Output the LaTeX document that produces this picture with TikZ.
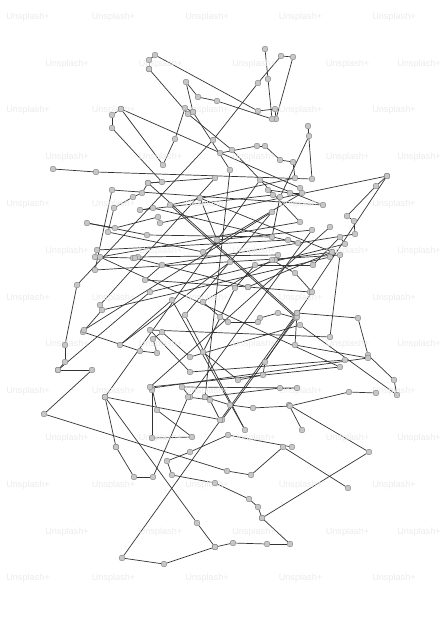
\documentclass[tikz,border=0pt]{standalone}
\usepackage{fontspec}
\setsansfont{Liberation Sans}
\pgfdeclarelayer{bg}
\pgfsetlayers{bg,main}

\tikzstyle{pt}=[circle, inner sep=0pt, minimum size=2.9mm, draw=black!55, fill=black!22, line width=0.5pt]
\tikzstyle{link}=[draw=black!80, line width=1pt]
\tikzstyle{wmark}=[text=black!8, font=\sffamily\fontsize{13}{13}\selectfont]

% one chain of dots, each joined to the one before it
\newcommand{\linkchain}[2]{%
  \foreach \p [count=\n] in {#2} {
    \node[pt] (#1\n) at \p {};
    \ifnum\n>1
      \pgfmathtruncatemacro\m{\n-1}
      \begin{pgfonlayer}{bg}
        \draw[link] (#1\m) -- (#1\n);
      \end{pgfonlayer}
    \fi
  }%
}

\begin{document}
\begin{tikzpicture}[x=0.5mm, y=-0.5mm]
  \useasboundingbox (0,0) rectangle (447,624);

  % watermark grid
  \foreach \r in {0,...,12} {
    \pgfmathsetmacro\yy{17+46.8*\r}
    \foreach \k in {0,...,4} {
      \pgfmathsetmacro\xx{mod(\r,2)==0 ? (\k==0 ? 28 : 20+93.5*\k) : (\k==4 ? 419 : 67+93.5*\k)}
      \node[wmark] (wm\r-\k) at (\xx,\yy) {Unsplash+};
    }
  }

  % top and left loops
  \linkchain{a}{(53,169),(96,172),(312,179),(308,126),(309,136),(280,197),(272,237),(147,235),(87,223),(115,228),(158,217),(160,223),(387,176),(310,292),(248,287),(145,280),(162,265),(355,234),(354,221),(347,216),(376,186),(387,176)}
  \linkchain{b}{(149,69),(149,60),(155,55),(258,111),(275,109),(276,119),(293,57),(281,56),(258,83),(213,140),(77,285),(65,345),(65,362),(58,370),(92,370),(44,414),(227,471),(251,475),(283,447),(348,488)}
  \linkchain{c}{(265,49),(268,79),(272,119),(217,101),(198,97),(186,82),(193,112),(185,108),(175,139),(163,165),(121,109),(112,115),(112,128),(162,182),(148,183),(142,193),(133,197),(114,208),(108,232),(203,252),(302,193),(290,193),(268,190),(273,195),(140,210),(153,208),(298,243),(288,240),(97,250),(95,257),(133,258),(138,257),(278,255),(275,260),(332,252),(330,257),(102,310),(83,332),(140,351),(157,353),(153,339),(162,332),(190,357),(300,325),(397,395),(394,380),(368,355),(358,318),(297,313),(295,345),(368,358),(152,388),(157,410),(192,437),(152,438),(152,390)}

  % centre tangle
  \linkchain{f}{(220,153),(257,146),(265,146),(280,160),(293,162),(295,178),(170,205),(296,318),(278,313),(260,318),(258,322),(228,322),(220,317),(203,302),(272,260),(295,273),(312,292),(265,362),(263,375),(238,380),(203,352),(235,288),(255,265),(313,265),(340,237),(345,244),(150,292),(58,370)}
  \linkchain{g}{(193,112),(230,170),(205,397),(280,388),(297,388),(182,387),(190,397),(312,230),(217,240),(200,198),(332,252),(248,287),(135,258)}
  \linkchain{s}{(149,69),(188,114),(232,150),(300,222),(100,257),(340,367),(150,387),(330,227)}
  \linkchain{p}{(100,305),(215,178),(148,183),(297,317),(222,420),(105,397)}
  \linkchain{q}{(105,397),(260,180),(323,205),(112,190),(95,270),(340,255),(330,337),(150,330),(190,372),(345,360)}
  \linkchain{t}{(121,109),(300,188)}
  \linkchain{v}{(84,330),(272,212),(185,315),(245,430),(172,300),(120,345),(230,262)}

  % lower part
  \linkchain{d}{(116,447),(105,397),(197,523),(215,547),(233,543),(267,544),(290,544),(262,518),(369,452),(289,405),(302,430)}
  \linkchain{e}{(116,447),(134,477),(153,477),(188,397),(210,400),(220,420)}
  \linkchain{h}{(215,547),(164,564),(122,558),(297,313)}
  \linkchain{i}{(205,397),(230,405),(253,408),(290,406),(349,392),(376,393)}
  \linkchain{k}{(262,518),(258,507),(249,499),(215,483),(172,475),(167,461),(190,452),(228,435),(292,447)}
\end{tikzpicture}
\end{document}
